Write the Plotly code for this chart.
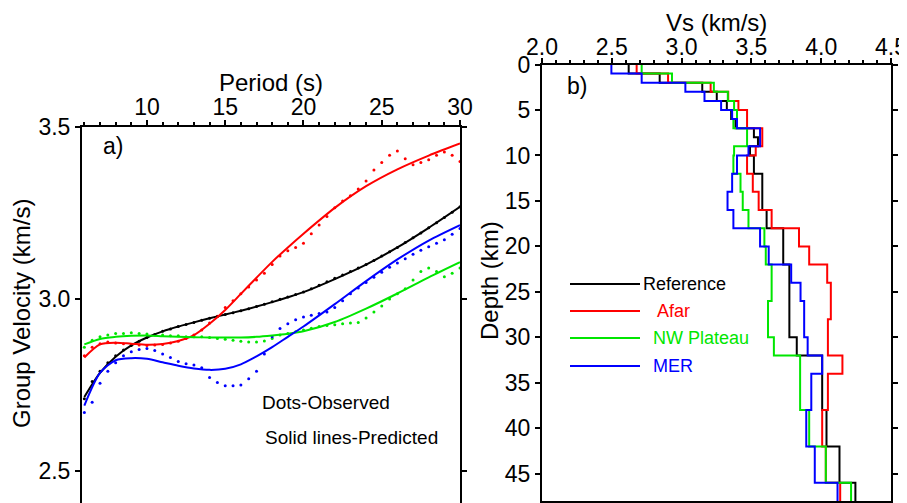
import plotly.graph_objects as go

# ---------------- data: left panel (group velocity dispersion) ----------------
pred_periods = [6, 7, 8, 9, 10, 11, 12, 13, 14, 15, 16, 17, 18, 19, 20, 22, 24, 26, 28, 30]
ref_pred = [2.715, 2.785, 2.832, 2.865, 2.888, 2.906, 2.920, 2.932, 2.944, 2.955, 2.966, 2.978,
            2.991, 3.005, 3.020, 3.058, 3.100, 3.150, 3.207, 3.268]
afar_pred = [2.830, 2.868, 2.873, 2.870, 2.867, 2.869, 2.878, 2.895, 2.928, 2.968, 3.015, 3.062,
             3.108, 3.150, 3.190, 3.265, 3.328, 3.377, 3.417, 3.452]
nw_pred = [2.868, 2.884, 2.890, 2.893, 2.894, 2.892, 2.890, 2.889, 2.888, 2.888, 2.888, 2.890,
           2.894, 2.899, 2.906, 2.933, 2.972, 3.016, 3.063, 3.107]
mer_pred = [2.690, 2.785, 2.822, 2.828, 2.826, 2.816, 2.806, 2.798, 2.794, 2.797, 2.810, 2.833,
            2.860, 2.890, 2.920, 2.985, 3.052, 3.115, 3.170, 3.215]

obs_periods = [6, 6.5, 7, 7.5, 8, 8.5, 9, 9.5, 10, 10.5, 11, 11.5, 12, 12.5, 13, 13.5, 14, 14.5,
               15, 15.5, 16, 16.5, 17, 17.5, 18, 18.5, 19, 19.5, 20, 20.5, 21, 21.5, 22, 22.5,
               23, 23.5, 24, 24.5, 25, 25.5, 26, 26.5, 27, 27.5, 28, 28.5, 29, 29.5, 30]
ref_obs = [2.71, 2.76, 2.79, 2.815, 2.835, 2.852, 2.865, 2.877, 2.888, 2.897, 2.906, 2.913, 2.92,
           2.926, 2.932, 2.938, 2.944, 2.949, 2.955, 2.96, 2.966, 2.972, 2.978, 2.985, 2.992,
           2.999, 3.006, 3.013, 3.02, 3.03, 3.04, 3.05, 3.06, 3.07, 3.08, 3.09, 3.1, 3.112,
           3.125, 3.137, 3.15, 3.164, 3.178, 3.192, 3.207, 3.222, 3.237, 3.252, 3.268]
afar_obs = [2.835, 2.86, 2.87, 2.875, 2.872, 2.87, 2.868, 2.866, 2.865, 2.866, 2.868, 2.872,
            2.877, 2.885, 2.895, 2.91, 2.93, 2.95, 2.975, 2.995, 3.015, 3.035, 3.055, 3.075,
            3.1, 3.125, 3.14, 3.15, 3.162, 3.19, 3.215, 3.24, 3.265, 3.285, 3.3, 3.32, 3.343,
            3.375, 3.397, 3.418, 3.43, 3.408, 3.39, 3.397, 3.405, 3.418, 3.427, 3.418, 3.40]
nw_obs = [2.86, 2.88, 2.89, 2.895, 2.9, 2.9, 2.902, 2.9, 2.898, 2.895, 2.895, 2.893, 2.893,
          2.89, 2.89, 2.89, 2.888, 2.885, 2.883, 2.88, 2.877, 2.875, 2.875, 2.878, 2.885, 2.895,
          2.9, 2.905, 2.91, 2.915, 2.92, 2.923, 2.925, 2.928, 2.93, 2.932, 2.945, 2.962, 2.98,
          3.0, 3.015, 3.03, 3.055, 3.08, 3.09, 3.08, 3.065, 3.075, 3.09]
mer_obs = [2.67, 2.70, 2.755, 2.79, 2.815, 2.835, 2.847, 2.853, 2.856, 2.85, 2.84, 2.83, 2.818,
           2.812, 2.808, 2.80, 2.772, 2.757, 2.748, 2.748, 2.75, 2.768, 2.79, 2.84, 2.89, 2.914,
           2.928, 2.94, 2.948, 2.953, 2.958, 2.962, 2.975, 2.995, 3.015, 3.032, 3.048, 3.063,
           3.078, 3.092, 3.105, 3.117, 3.13, 3.142, 3.152, 3.162, 3.172, 3.188, 3.205]

# ---------------- data: right panel (Vs profiles) ----------------
layer_tops = [0, 1, 2, 3, 4, 5, 6, 7, 8, 9, 10, 12, 14, 16, 18, 20, 22, 24, 26, 28, 30, 32, 34,
              36, 38, 40, 42, 44, 46]
model_bottom = 48
ref_vs = [2.621, 2.843, 3.148, 3.252, 3.324, 3.355, 3.386, 3.518, 3.547, 3.490, 3.518, 3.578,
          3.578, 3.609, 3.728, 3.728, 3.772, 3.772, 3.772, 3.772, 3.825, 4.007, 4.007, 4.007,
          4.038, 4.038, 4.131, 4.131, 4.245]
afar_vs = [2.678, 2.903, 3.208, 3.334, 3.407, 3.469, 3.469, 3.578, 3.578, 3.531, 3.469, 3.510,
           3.552, 3.645, 3.841, 3.914, 4.043, 4.069, 4.069, 4.048, 4.048, 4.152, 4.048, 4.048,
           4.007, 4.007, 4.033, 4.033, 4.136]
nw_vs = [2.714, 2.931, 3.231, 3.331, 3.376, 3.397, 3.371, 3.469, 3.469, 3.376, 3.371, 3.422,
         3.438, 3.479, 3.593, 3.603, 3.645, 3.645, 3.619, 3.619, 3.661, 3.849, 3.849, 3.849,
         3.914, 3.914, 4.033, 4.033, 4.214]
mer_vs = [2.497, 2.714, 3.027, 3.164, 3.283, 3.362, 3.397, 3.562, 3.562, 3.479, 3.397, 3.362,
          3.329, 3.371, 3.562, 3.624, 3.785, 3.852, 3.878, 3.878, 3.903, 4.007, 3.929, 3.929,
          3.893, 3.893, 3.954, 3.954, 4.117]

names = ["Reference", "Afar", "NW Plateau", "MER"]
colors = ["#000000", "#ff0000", "#00e600", "#0000ff"]

# ---------------- layout helpers (page pixel -> paper); the page body has an 8px margin ----------------
OFF = 8
W, H = 907 - OFF, 503 - OFF
def px(x):
    return (x - OFF) / W
def py(y):
    return 1 - (y - OFF) / H

FONT = "Liberation Sans, Arial, Helvetica, sans-serif"

fig = go.Figure()

# left panel: observed dots then predicted lines
for obs, col, nm in zip([ref_obs, afar_obs, nw_obs, mer_obs], colors, names):
    fig.add_trace(go.Scatter(x=obs_periods, y=obs, mode="markers",
                             marker=dict(color=col, size=3),
                             name=nm + " observed", showlegend=False,
                             xaxis="x", yaxis="y"))
for pred, col, nm in zip([ref_pred, afar_pred, nw_pred, mer_pred], colors, names):
    fig.add_trace(go.Scatter(x=pred_periods, y=pred, mode="lines",
                             line=dict(color=col, width=2, shape="spline", smoothing=0.8),
                             name=nm + " predicted", showlegend=False,
                             xaxis="x", yaxis="y"))

# right panel: step profiles
for vs, col, nm in zip([ref_vs, afar_vs, nw_vs, mer_vs], colors, names):
    fig.add_trace(go.Scatter(x=vs + [vs[-1]], y=layer_tops + [model_bottom], mode="lines",
                             line=dict(color=col, width=2, shape="vh"),
                             name=nm, showlegend=False,
                             xaxis="x2", yaxis="y2"))

axis_common = dict(showline=True, linecolor="black", linewidth=2, ticks="outside",
                   tickcolor="black", tickwidth=1.5, showgrid=False, zeroline=False,
                   automargin=False, tickfont=dict(family=FONT, size=23, color="black"))

fig.update_layout(
    width=W, height=H,
    margin=dict(l=0, r=0, t=0, b=0),
    paper_bgcolor="white", plot_bgcolor="white",
    font=dict(family=FONT, color="black"),
    xaxis=dict(domain=[px(82), px(460)], range=[5.85, 30], side="top", anchor="y",
               tickvals=[10, 15, 20, 25, 30], ticklen=5, ticklabelstandoff=-4,
               minor=dict(dtick=1, ticklen=3, ticks="outside", tickcolor="black"),
               **axis_common),
    yaxis=dict(domain=[0, py(127)], range=[2.407, 3.5], anchor="x",
               tickvals=[2.5, 3.0, 3.5], tickformat=".1f", ticklen=5, mirror="ticks",
               **axis_common),
    xaxis2=dict(domain=[px(542), px(891)], range=[2.0, 4.5], side="top", anchor="y2",
                tickvals=[2.0, 2.5, 3.0, 3.5, 4.0, 4.5], tickformat=".1f", ticklen=5,
                ticklabelstandoff=-7, mirror="allticks",
                minor=dict(dtick=0.1, ticklen=3, ticks="outside", tickcolor="black"),
                **axis_common),
    yaxis2=dict(domain=[py(501), py(64.5)], range=[48, 0], anchor="x2",
                tickvals=[0, 5, 10, 15, 20, 25, 30, 35, 40, 45], ticklen=5, mirror="ticks",
                **axis_common),
)

ann = []
def text(x, y, s, size, color="black", xanchor="center", angle=0):
    ann.append(dict(x=px(x), y=py(y), xref="paper", yref="paper", text=s, showarrow=False,
                    xanchor=xanchor, yanchor="middle", textangle=angle,
                    font=dict(family=FONT, size=size, color=color)))

text(271, 83, "Period (s)", 24)
text(716, 23, "Vs (km/s)", 24)
text(21, 314, "Group Velocity (km/s)", 24, angle=-90)
text(489, 281, "Depth (km)", 24, angle=-90)
text(113, 146, "a)", 23)
text(577, 86, "b)", 23)
text(260, 402, "Dots-Observed", 19, xanchor="left")
text(263, 437, "Solid lines-Predicted", 19, xanchor="left")

# legend for right panel
leg_y = [284, 311, 338, 366]
leg_text_x = [641, 655, 651, 651]
shapes = []
for nm, col, yy, tx in zip(names, colors, leg_y, leg_text_x):
    shapes.append(dict(type="line", xref="paper", yref="paper", x0=px(570), x1=px(640),
                       y0=py(yy), y1=py(yy), line=dict(color=col, width=2)))
    text(tx, yy, nm, 18, color=col, xanchor="left")

fig.update_layout(annotations=ann, shapes=shapes)
fig.write_html("out.html")
